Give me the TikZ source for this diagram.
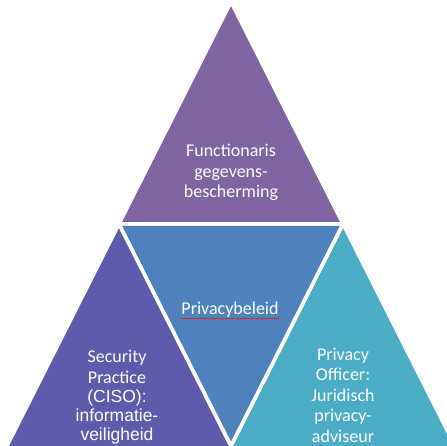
\documentclass[tikz,border=0pt]{standalone}
\usepackage{fontspec}
\setmainfont{Carlito}
\newfontfamily\arialfont{Liberation Sans}
\usetikzlibrary{calc}
\definecolor{toppurple}{HTML}{8064A2}
\definecolor{midblue}{HTML}{4F81BD}
\definecolor{leftviolet}{HTML}{5E5BAD}
\definecolor{rightteal}{HTML}{4BACC6}
\definecolor{spellred}{HTML}{D42A2A}
\begin{document}
\begin{tikzpicture}[x=1pt,y=-1pt,
  gap/.style={draw=white,line width=3.5pt,line join=miter},
  lbl/.style={text=white,align=center,inner sep=0pt,anchor=base,
    font=\fontsize{18}{20.5}\selectfont}]
\useasboundingbox (0,0) rectangle (447,446);
\clip (0,0) rectangle (447,446);

% lattice of the four triangles
\coordinate (T)  at (231,2);
\coordinate (ML) at (119,224);
\coordinate (MR) at (343,224);
\coordinate (BL) at (7,446);
\coordinate (BM) at (231,446);
\coordinate (BR) at (455,446);
% the lower triangles run past the bottom edge
\coordinate (L1) at ($(ML)!1.1081!(BL)$);
\coordinate (L2) at ($(ML)!1.1081!(BM)$);
\coordinate (R1) at ($(MR)!1.1081!(BM)$);
\coordinate (R2) at ($(MR)!1.1081!(BR)$);

% fills
\fill[toppurple]  (T) -- (ML) -- (MR) -- cycle;
\fill[midblue]    (ML) -- (MR) -- (BM) -- cycle;
\fill[leftviolet] (ML) -- (L1) -- (L2) -- cycle;
\fill[rightteal]  (MR) -- (R1) -- (R2) -- cycle;

% white seams
\draw[gap] (T) -- (ML) -- (MR) -- cycle;
\draw[gap] (ML) -- (MR) -- (BM) -- cycle;
\draw[gap] (ML) -- (L1) -- (L2) -- cycle;
\draw[gap] (MR) -- (R1) -- (R2) -- cycle;

% labels (node anchored on the baseline of its last line)
\node[lbl] (fg) at (231,198) {Functionaris\\gegevens-\\bescherming};
\node[lbl] (pb) at (230,315) {Privacybeleid};
\draw[spellred,line width=1pt] ([yshift=-3pt]pb.base west) -- ([yshift=-3pt]pb.base east);
\node[lbl] (sp) at (117,383) {Security\\Practice};
\node[lbl,font=\arialfont\fontsize{17.5}{19}\selectfont] (ciso) at (117,440)
  {(CISO):\\informatie-\\veiligheid};
\node[lbl] (po) at (343,442) {Privacy\\Officer:\\Juridisch\\privacy-\\adviseur};
\end{tikzpicture}
\end{document}
